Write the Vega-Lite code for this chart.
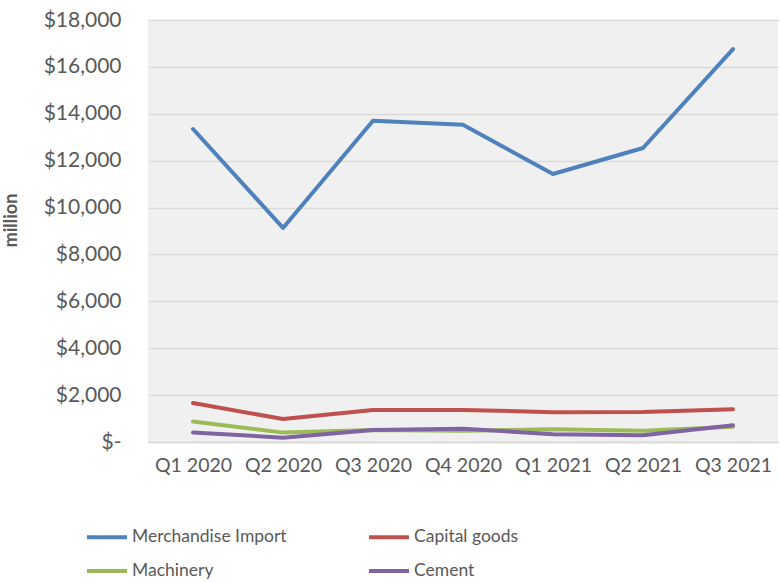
{
  "$schema": "https://vega.github.io/schema/vega-lite/v6.json",
  "autosize": {"type": "none"},
  "width": 630,
  "height": 422,
  "padding": {"left": 148, "top": 20, "right": 2, "bottom": 140},
  "background": "white",
  "config": {
    "font": "Lato",
    "view": {"stroke": null, "fill": "#f0f0f0"}
  },
  "data": {
    "values": [
      {"quarter": "Q1 2020", "series": "Merchandise Import", "value": 13350},
      {"quarter": "Q2 2020", "series": "Merchandise Import", "value": 9130},
      {"quarter": "Q3 2020", "series": "Merchandise Import", "value": 13700},
      {"quarter": "Q4 2020", "series": "Merchandise Import", "value": 13530},
      {"quarter": "Q1 2021", "series": "Merchandise Import", "value": 11430},
      {"quarter": "Q2 2021", "series": "Merchandise Import", "value": 12540},
      {"quarter": "Q3 2021", "series": "Merchandise Import", "value": 16760},
      {"quarter": "Q1 2020", "series": "Capital goods", "value": 1660},
      {"quarter": "Q2 2020", "series": "Capital goods", "value": 980},
      {"quarter": "Q3 2020", "series": "Capital goods", "value": 1365},
      {"quarter": "Q4 2020", "series": "Capital goods", "value": 1370},
      {"quarter": "Q1 2021", "series": "Capital goods", "value": 1270},
      {"quarter": "Q2 2021", "series": "Capital goods", "value": 1280},
      {"quarter": "Q3 2021", "series": "Capital goods", "value": 1395},
      {"quarter": "Q1 2020", "series": "Machinery", "value": 870},
      {"quarter": "Q2 2020", "series": "Machinery", "value": 400},
      {"quarter": "Q3 2020", "series": "Machinery", "value": 510},
      {"quarter": "Q4 2020", "series": "Machinery", "value": 480},
      {"quarter": "Q1 2021", "series": "Machinery", "value": 540},
      {"quarter": "Q2 2021", "series": "Machinery", "value": 480},
      {"quarter": "Q3 2021", "series": "Machinery", "value": 650},
      {"quarter": "Q1 2020", "series": "Cement", "value": 410},
      {"quarter": "Q2 2020", "series": "Cement", "value": 185},
      {"quarter": "Q3 2020", "series": "Cement", "value": 510},
      {"quarter": "Q4 2020", "series": "Cement", "value": 570},
      {"quarter": "Q1 2021", "series": "Cement", "value": 330},
      {"quarter": "Q2 2021", "series": "Cement", "value": 285},
      {"quarter": "Q3 2021", "series": "Cement", "value": 710}
    ]
  },
  "mark": {"type": "line", "strokeWidth": 4, "strokeCap": "round", "strokeJoin": "round"},
  "encoding": {
    "x": {
      "field": "quarter",
      "type": "ordinal",
      "sort": null,
      "scale": {"type": "point", "padding": 0.5},
      "axis": {
        "title": null,
        "labelAngle": 0,
        "labelFontSize": 19.5,
        "labelColor": "#595959",
        "labelPadding": 14,
        "ticks": false,
        "grid": false,
        "domainColor": "#d9d9d9",
        "domainWidth": 1.5
      }
    },
    "y": {
      "field": "value",
      "type": "quantitative",
      "scale": {"domain": [0, 18000], "nice": false},
      "axis": {
        "values": [0, 2000, 4000, 6000, 8000, 10000, 12000, 14000, 16000, 18000],
        "labelExpr": "datum.value == 0 ? '$-' : '$' + format(datum.value, ',')",
        "labelFontSize": 21,
        "labelColor": "#595959",
        "labelPadding": 27,
        "ticks": false,
        "domain": false,
        "gridColor": "#d9d9d9",
        "gridWidth": 1.5,
        "title": "million",
        "titleFontSize": 18,
        "titleFontWeight": "bold",
        "titleColor": "#595959",
        "titleAngle": 270,
        "titleX": -137,
        "titleY": 200,
        "titleAlign": "center",
        "titleBaseline": "middle"
      }
    },
    "color": {
      "field": "series",
      "type": "nominal",
      "scale": {
        "domain": ["Merchandise Import", "Capital goods", "Machinery", "Cement"],
        "range": ["#4f81bd", "#c0504d", "#9bbb59", "#8064a2"]
      },
      "legend": {
        "title": null,
        "orient": "none",
        "legendX": -63,
        "legendY": 495,
        "columns": 2,
        "direction": "horizontal",
        "symbolType": "stroke",
        "symbolSize": 1600,
        "symbolStrokeWidth": 4,
        "labelFontSize": 17.5,
        "labelColor": "#595959",
        "labelOffset": 3,
        "rowPadding": 3,
        "columnPadding": 74,
        "labelLimit": 300
      }
    }
  }
}
